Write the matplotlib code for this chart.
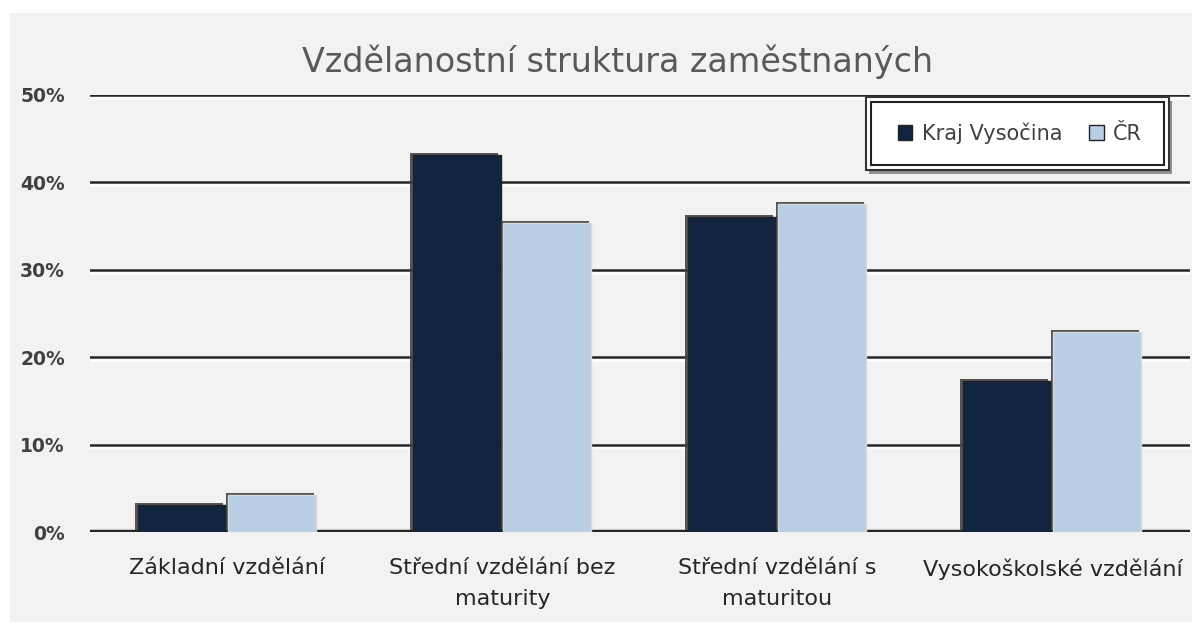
import numpy as np
import matplotlib
matplotlib.use("Agg")
import matplotlib.pyplot as plt
from matplotlib.patches import Rectangle
import matplotlib.patheffects as pe

# Data
kategorie = ["Základní vzdělání", "Střední vzdělání bez\nmaturity",
             "Střední vzdělání s\nmaturitou", "Vysokoškolské vzdělání"]
vysocina = [0.031, 0.431, 0.360, 0.173]
cr = [0.042, 0.354, 0.375, 0.229]
yticks = [0, 0.1, 0.2, 0.3, 0.4, 0.5]
yticklabels = ["0%", "10%", "20%", "30%", "40%", "50%"]

c_dark = "#12243f"
c_light = "#b9cde5"
bg = "#f2f2f2"

fig = plt.figure(figsize=(12.03, 6.3), dpi=100)
fig.patch.set_facecolor("white")
fig.patches.append(Rectangle((10 / 1203, 8 / 630), 1182 / 1203, 609 / 630,
                             transform=fig.transFigure, facecolor=bg,
                             edgecolor="none", zorder=-10))

ax = fig.add_axes([90 / 1203, 1 - 532 / 630, 1100 / 1203, 437 / 630])
ax.set_facecolor("none")

x = np.arange(len(kategorie)) + 0.5
w = 0.32
shadow = [pe.SimplePatchShadow(offset=(-1.5, 1.5), shadow_rgbFace="#444444", alpha=0.9), pe.Normal()]
b1 = ax.bar(x - 0.167, vysocina, w, color=c_dark, edgecolor="#222222", linewidth=1.0,
            zorder=3, label="Kraj Vysočina")
b2 = ax.bar(x + 0.163, cr, w, color=c_light, edgecolor="#d9d9d9", linewidth=1.0,
            zorder=3, label="ČR")
for b in list(b1) + list(b2):
    b.set_path_effects(shadow)

ax.set_xlim(0, 4)
ax.set_ylim(0, 0.5)
ax.set_yticks(yticks)
ax.set_yticklabels(yticklabels, fontsize=13.5, color="#404040", fontweight="bold")
ax.set_xticks(x)
ax.set_xticklabels(kategorie, fontsize=16, color="#262626", linespacing=1.65)
ax.tick_params(axis="both", length=0)
ax.tick_params(axis="y", pad=18)
ax.tick_params(axis="x", pad=19)

grid_fx = [pe.SimpleLineShadow(offset=(0, -2), shadow_color="white", alpha=1), pe.Normal()]
for t in yticks:
    lw = 3.2 if t == 0 else 1.8
    ax.axhline(t, color="#262626", linewidth=lw, zorder=2, path_effects=grid_fx)

for s in ax.spines.values():
    s.set_visible(False)

fig.text(0.513, 1 - 62 / 630, "Vzdělanostní struktura zaměstnaných", ha="center", va="center",
         fontsize=24, color="#595959")

# dvojity ramecek legendy
ax.add_patch(Rectangle((866 / 1203, 1 - 170 / 630), 303 / 1203, 73 / 630,
                       transform=fig.transFigure, facecolor="white", clip_on=False,
                       edgecolor="#333333", linewidth=1.5, zorder=4,
                       path_effects=[pe.SimplePatchShadow(offset=(2, -3), shadow_rgbFace="#888888", alpha=0.9), pe.Normal()]))
ax.add_patch(Rectangle((871 / 1203, 1 - 165 / 630), 293 / 1203, 63 / 630,
                       transform=fig.transFigure, facecolor="white", clip_on=False,
                       edgecolor="#222222", linewidth=1.5, zorder=4.5))

leg = ax.legend(ncol=2, loc="center", bbox_to_anchor=(1020 / 1203, 1 - 133 / 630),
                bbox_transform=fig.transFigure, fontsize=15, frameon=False,
                handlelength=0.7, handleheight=0.7, columnspacing=1.3,
                handletextpad=0.45)
leg.set_zorder(5)
for h in leg.legend_handles:
    h.set_edgecolor("#222222")
    h.set_path_effects([])
for t in leg.get_texts():
    t.set_color("#404040")

fig.savefig("out.png", dpi=100, facecolor="white")
